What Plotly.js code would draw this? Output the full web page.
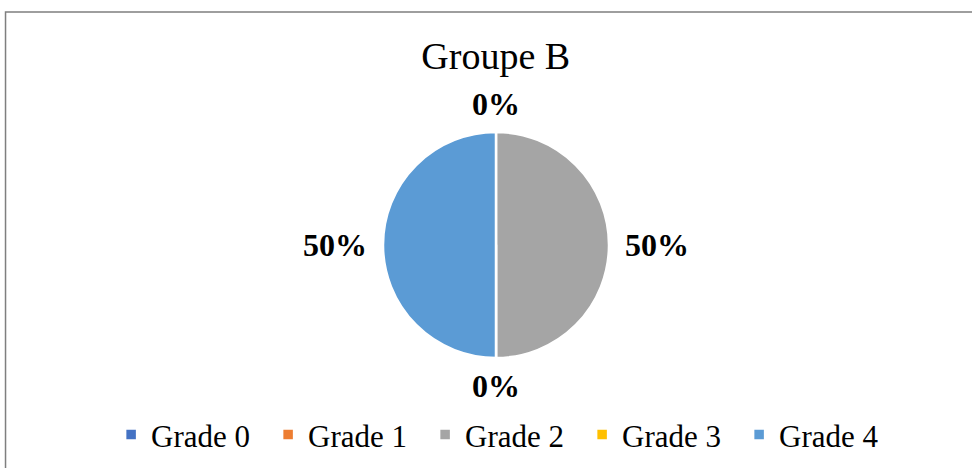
<!DOCTYPE html>
<html><head><meta charset="utf-8">
<script src="https://cdn.plot.ly/plotly-3.0.1.min.js"></script>
<style>html,body{margin:0;padding:0;background:#fff}#chart{width:972px;height:468px}</style>
</head><body><div id="chart"></div>
<script>
const title = 'Groupe B';
const categories = ['Grade 0', 'Grade 1', 'Grade 2', 'Grade 3', 'Grade 4'];
const values = [0, 0, 50, 0, 50];
const colors = ['#4472C4', '#ED7D31', '#A5A5A5', '#FFC000', '#5B9BD5'];
const showLabel = [true, false, true, true, true];

const W = 972, H = 468;
const margin = {l: 20, r: 0, t: 132, b: 110};
const R = (H - margin.t - margin.b) / 2;   // pie radius in px
const labelGapH = 14, labelGapV = 8;

const trace = {
  type: 'pie',
  labels: categories,
  values: values,
  sort: false,
  direction: 'clockwise',
  rotation: 0,
  marker: {colors: colors, line: {color: '#ffffff', width: 2.5}},
  textinfo: 'none',
  hoverinfo: 'label+percent',
  showlegend: true
};

// data labels (percent) placed just outside each slice, derived from the values
const total = values.reduce((a, b) => a + b, 0);
const annotations = [];
let cum = 0;
values.forEach((v, i) => {
  const frac = v / total;
  const mid = (cum + frac / 2) * 2 * Math.PI;
  cum += frac;
  if (!showLabel[i]) return;
  const s = Math.sin(mid), c = Math.cos(mid);
  const sx = Math.abs(s) < 1e-6 ? 0 : s;
  const cy = Math.abs(c) < 1e-6 ? 0 : c;
  annotations.push({
    xref: 'paper', yref: 'paper', x: 0.5, y: 0.5,
    xshift: (R + labelGapH) * sx, yshift: (R + labelGapV) * cy,
    xanchor: sx > 0 ? 'left' : (sx < 0 ? 'right' : 'center'),
    yanchor: cy > 0 ? 'bottom' : (cy < 0 ? 'top' : 'middle'),
    text: Math.round(frac * 100) + '%',
    showarrow: false,
    font: {family: 'Liberation Serif', size: 32, color: '#000000', weight: 'bold'}
  });
});

const layout = {
  width: W, height: H,
  paper_bgcolor: '#ffffff', plot_bgcolor: '#ffffff',
  margin: margin,
  title: {text: title, font: {family: 'Liberation Serif', size: 38, color: '#000000'},
          x: 0.51, xref: 'container', y: 0.88, yref: 'container', yanchor: 'middle', xanchor: 'center'},
  showlegend: true,
  legend: {orientation: 'h', x: 0.508, xanchor: 'center', y: -0.34, yanchor: 'middle',
           font: {family: 'Liberation Serif', size: 31, color: '#000000'},
           entrywidth: 112, entrywidthmode: 'pixels',
           traceorder: 'normal'},
  annotations: annotations,
  shapes: [{type: 'path', xref: 'paper', yref: 'paper',
            path: 'M -0.0152,-0.5 L -0.0152,1.531 L 1.05,1.531',
            line: {color: '#7f7f7f', width: 1.5}}]
};

Plotly.newPlot('chart', [trace], layout, {displayModeBar: false, staticPlot: true});
</script></body></html>
